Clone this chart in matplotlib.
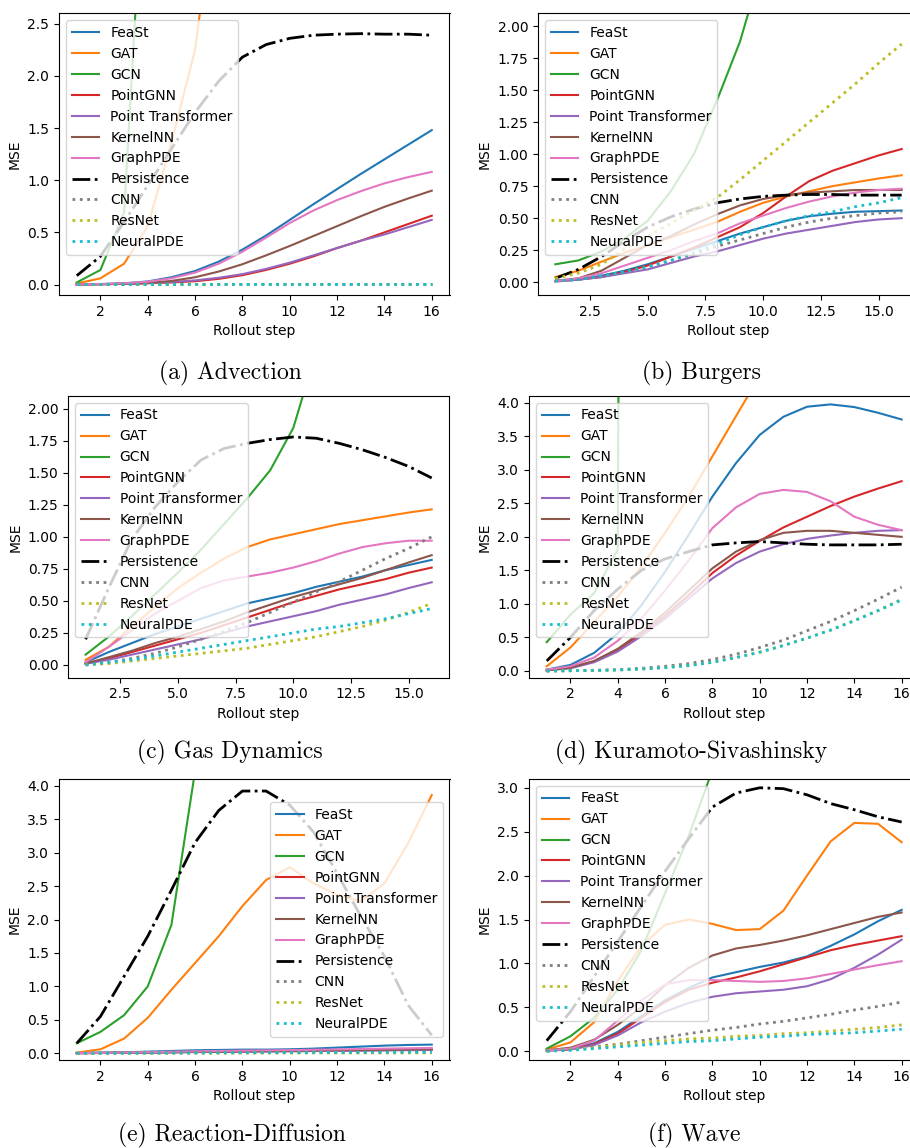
import matplotlib
matplotlib.use("Agg")
import matplotlib.pyplot as plt

plt.rcParams['font.size'] = 10

steps = list(range(1, 17))
models = ["FeaSt", "GAT", "GCN", "PointGNN", "Point Transformer", "KernelNN",
          "GraphPDE", "Persistence", "CNN", "ResNet", "NeuralPDE"]
colors = ["C0", "C1", "C2", "C3", "C4", "C5", "C6", "k", "C7", "C8", "C9"]

advection = {
    "FeaSt": [0.002, 0.005, 0.012, 0.03, 0.07, 0.13, 0.22, 0.335, 0.47, 0.62, 0.77, 0.915, 1.06, 1.2, 1.34, 1.48],
    "GAT": [0.01, 0.06, 0.2, 0.56, 1.36, 2.25, 4.0, 5.5, 7.0, 8.8, 11.0, 13.5, 16.0, 19.0, 22.0, 25.0],
    "GCN": [0.02, 0.14, 0.69, 4.7, 8.0, 12.0, 16.0, 20.0, 25.0, 30.0, 35.0, 40.0, 45.0, 50.0, 55.0, 60.0],
    "PointGNN": [0.001, 0.003, 0.006, 0.012, 0.02, 0.032, 0.055, 0.09, 0.14, 0.2, 0.27, 0.35, 0.42, 0.5, 0.58, 0.66],
    "Point Transformer": [0.001, 0.003, 0.008, 0.015, 0.025, 0.04, 0.065, 0.1, 0.15, 0.21, 0.28, 0.35, 0.42, 0.48, 0.55, 0.62],
    "KernelNN": [0.002, 0.004, 0.008, 0.018, 0.035, 0.07, 0.125, 0.195, 0.28, 0.37, 0.465, 0.56, 0.655, 0.745, 0.825, 0.9],
    "GraphPDE": [0.002, 0.005, 0.012, 0.028, 0.06, 0.115, 0.2, 0.315, 0.45, 0.59, 0.71, 0.81, 0.895, 0.97, 1.03, 1.08],
    "Persistence": [0.085, 0.27, 0.6, 0.95, 1.3, 1.65, 1.95, 2.18, 2.3, 2.36, 2.39, 2.4, 2.405, 2.4, 2.4, 2.39],
    "CNN": [0.002, 0.002, 0.002, 0.002, 0.002, 0.002, 0.002, 0.002, 0.002, 0.002, 0.002, 0.002, 0.002, 0.002, 0.002, 0.002],
    "ResNet": [0.001, 0.001, 0.001, 0.001, 0.001, 0.001, 0.001, 0.001, 0.001, 0.001, 0.001, 0.001, 0.001, 0.001, 0.001, 0.001],
    "NeuralPDE": [0.001, 0.001, 0.001, 0.001, 0.001, 0.001, 0.001, 0.001, 0.001, 0.001, 0.001, 0.001, 0.001, 0.001, 0.001, 0.001],
}

burgers = {
    "FeaSt": [0.01, 0.02, 0.05, 0.09, 0.14, 0.2, 0.26, 0.32, 0.38, 0.43, 0.48, 0.515, 0.535, 0.55, 0.555, 0.56],
    "GAT": [0.04, 0.09, 0.16, 0.23, 0.29, 0.35, 0.41, 0.47, 0.55, 0.62, 0.67, 0.71, 0.75, 0.78, 0.81, 0.835],
    "GCN": [0.14, 0.17, 0.24, 0.34, 0.48, 0.71, 1.0, 1.42, 1.88, 2.5, 3.2, 4.0, 4.9, 5.9, 7.0, 8.2],
    "PointGNN": [0.01, 0.02, 0.04, 0.08, 0.13, 0.2, 0.27, 0.35, 0.43, 0.54, 0.67, 0.79, 0.87, 0.93, 0.99, 1.04],
    "Point Transformer": [0.005, 0.02, 0.04, 0.07, 0.1, 0.15, 0.2, 0.24, 0.29, 0.34, 0.38, 0.41, 0.44, 0.47, 0.49, 0.5],
    "KernelNN": [0.01, 0.03, 0.09, 0.19, 0.29, 0.36, 0.45, 0.53, 0.6, 0.65, 0.68, 0.7, 0.71, 0.72, 0.72, 0.72],
    "GraphPDE": [0.01, 0.03, 0.07, 0.13, 0.19, 0.25, 0.32, 0.38, 0.46, 0.52, 0.58, 0.63, 0.67, 0.7, 0.72, 0.73],
    "Persistence": [0.03, 0.1, 0.2, 0.32, 0.43, 0.51, 0.57, 0.62, 0.65, 0.67, 0.68, 0.685, 0.685, 0.68, 0.68, 0.68],
    "CNN": [0.01, 0.02, 0.05, 0.08, 0.12, 0.17, 0.22, 0.28, 0.33, 0.38, 0.43, 0.47, 0.5, 0.52, 0.54, 0.55],
    "ResNet": [0.03, 0.07, 0.14, 0.26, 0.36, 0.46, 0.56, 0.66, 0.8, 0.95, 1.1, 1.25, 1.4, 1.55, 1.71, 1.86],
    "NeuralPDE": [0.01, 0.02, 0.05, 0.08, 0.12, 0.17, 0.23, 0.3, 0.37, 0.43, 0.48, 0.52, 0.55, 0.59, 0.62, 0.66],
}

gas_dynamics = {
    "FeaSt": [0.02, 0.1, 0.17, 0.24, 0.3, 0.36, 0.42, 0.48, 0.52, 0.56, 0.61, 0.65, 0.69, 0.74, 0.78, 0.82],
    "GAT": [0.04, 0.14, 0.3, 0.45, 0.6, 0.72, 0.83, 0.92, 0.98, 1.02, 1.06, 1.1, 1.13, 1.16, 1.19, 1.215],
    "GCN": [0.08, 0.22, 0.38, 0.55, 0.72, 0.9, 1.1, 1.3, 1.52, 1.85, 2.45, 3.2, 4.0, 5.0, 6.0, 7.0],
    "PointGNN": [0.01, 0.05, 0.1, 0.15, 0.2, 0.25, 0.31, 0.37, 0.43, 0.49, 0.54, 0.59, 0.63, 0.67, 0.72, 0.76],
    "Point Transformer": [0.01, 0.04, 0.08, 0.12, 0.16, 0.2, 0.25, 0.3, 0.34, 0.38, 0.42, 0.47, 0.51, 0.55, 0.6, 0.645],
    "KernelNN": [0.01, 0.06, 0.11, 0.17, 0.22, 0.28, 0.34, 0.41, 0.47, 0.53, 0.58, 0.63, 0.68, 0.74, 0.8, 0.857],
    "GraphPDE": [0.02, 0.14, 0.27, 0.4, 0.5, 0.6, 0.66, 0.69, 0.72, 0.76, 0.81, 0.87, 0.92, 0.95, 0.97, 0.97],
    "Persistence": [0.2, 0.6, 0.98, 1.23, 1.43, 1.6, 1.69, 1.73, 1.76, 1.78, 1.77, 1.73, 1.68, 1.62, 1.55, 1.46],
    "CNN": [0.0, 0.02, 0.05, 0.09, 0.14, 0.2, 0.26, 0.33, 0.41, 0.49, 0.57, 0.65, 0.74, 0.83, 0.91, 1.0],
    "ResNet": [0.0, 0.01, 0.03, 0.05, 0.07, 0.09, 0.11, 0.13, 0.16, 0.19, 0.22, 0.26, 0.3, 0.35, 0.41, 0.48],
    "NeuralPDE": [0.0, 0.02, 0.04, 0.07, 0.1, 0.13, 0.16, 0.19, 0.22, 0.25, 0.28, 0.3, 0.33, 0.36, 0.4, 0.44],
}

kuramoto = {
    "FeaSt": [0.02, 0.09, 0.27, 0.56, 0.98, 1.48, 2.03, 2.6, 3.1, 3.52, 3.79, 3.94, 3.975, 3.935, 3.85, 3.75],
    "GAT": [0.07, 0.35, 0.73, 1.11, 1.55, 2.06, 2.6, 3.2, 3.8, 4.4, 5.0, 5.6, 6.2, 6.8, 7.4, 8.0],
    "GCN": [0.43, 0.84, 1.16, 1.81, 80.0, 150.0, 220.0, 290.0, 360.0, 430.0, 500.0, 570.0, 640.0, 710.0, 780.0, 850.0],
    "PointGNN": [0.01, 0.05, 0.14, 0.32, 0.55, 0.82, 1.13, 1.46, 1.72, 1.94, 2.14, 2.3, 2.46, 2.6, 2.72, 2.83],
    "Point Transformer": [0.01, 0.04, 0.13, 0.29, 0.52, 0.78, 1.08, 1.38, 1.61, 1.78, 1.89, 1.97, 2.02, 2.06, 2.09, 2.1],
    "KernelNN": [0.01, 0.05, 0.15, 0.33, 0.58, 0.87, 1.2, 1.53, 1.78, 1.95, 2.06, 2.09, 2.09, 2.06, 2.03, 2.0],
    "GraphPDE": [0.02, 0.07, 0.2, 0.45, 0.78, 1.2, 1.65, 2.13, 2.44, 2.64, 2.7, 2.67, 2.53, 2.3, 2.18, 2.1],
    "Persistence": [0.15, 0.5, 0.9, 1.22, 1.5, 1.67, 1.78, 1.88, 1.91, 1.93, 1.91, 1.89, 1.88, 1.88, 1.88, 1.89],
    "CNN": [0.0, 0.005, 0.01, 0.02, 0.04, 0.07, 0.11, 0.17, 0.25, 0.35, 0.46, 0.6, 0.74, 0.9, 1.07, 1.25],
    "ResNet": [0.0, 0.004, 0.008, 0.015, 0.03, 0.05, 0.08, 0.13, 0.2, 0.28, 0.38, 0.49, 0.61, 0.75, 0.9, 1.07],
    "NeuralPDE": [0.0, 0.004, 0.008, 0.015, 0.03, 0.05, 0.08, 0.13, 0.2, 0.28, 0.38, 0.49, 0.61, 0.75, 0.9, 1.06],
}

reaction_diffusion = {
    "FeaSt": [0.005, 0.01, 0.015, 0.025, 0.035, 0.045, 0.05, 0.055, 0.055, 0.06, 0.07, 0.085, 0.1, 0.115, 0.125, 0.13],
    "GAT": [0.01, 0.06, 0.22, 0.53, 0.95, 1.35, 1.75, 2.2, 2.59, 2.78, 2.54, 2.37, 2.27, 2.54, 3.14, 3.86],
    "GCN": [0.15, 0.32, 0.57, 1.0, 1.92, 4.22, 7.0, 10.0, 13.0, 16.0, 19.0, 22.0, 25.0, 28.0, 31.0, 34.0],
    "PointGNN": [0.002, 0.005, 0.008, 0.012, 0.016, 0.02, 0.024, 0.027, 0.03, 0.033, 0.036, 0.04, 0.044, 0.048, 0.052, 0.055],
    "Point Transformer": [0.002, 0.004, 0.007, 0.01, 0.014, 0.018, 0.022, 0.025, 0.028, 0.031, 0.034, 0.037, 0.041, 0.044, 0.047, 0.05],
    "KernelNN": [0.003, 0.006, 0.01, 0.014, 0.018, 0.022, 0.026, 0.03, 0.033, 0.036, 0.04, 0.044, 0.048, 0.052, 0.056, 0.06],
    "GraphPDE": [0.003, 0.007, 0.012, 0.018, 0.024, 0.03, 0.035, 0.04, 0.044, 0.048, 0.053, 0.058, 0.064, 0.07, 0.075, 0.08],
    "Persistence": [0.15, 0.55, 1.15, 1.75, 2.44, 3.15, 3.63, 3.92, 3.92, 3.71, 3.31, 2.69, 2.05, 1.45, 0.72, 0.27],
    "CNN": [0.001, 0.002, 0.004, 0.005, 0.006, 0.008, 0.009, 0.01, 0.011, 0.012, 0.013, 0.015, 0.016, 0.017, 0.018, 0.02],
    "ResNet": [0.001, 0.001, 0.002, 0.002, 0.003, 0.003, 0.003, 0.004, 0.004, 0.004, 0.005, 0.005, 0.005, 0.005, 0.006, 0.006],
    "NeuralPDE": [0.001, 0.002, 0.003, 0.004, 0.005, 0.006, 0.007, 0.008, 0.009, 0.01, 0.011, 0.012, 0.013, 0.014, 0.015, 0.016],
}

wave = {
    "FeaSt": [0.01, 0.03, 0.09, 0.22, 0.4, 0.58, 0.72, 0.84, 0.9, 0.96, 1.01, 1.08, 1.2, 1.33, 1.48, 1.61],
    "GAT": [0.02, 0.1, 0.33, 0.8, 1.2, 1.44, 1.5, 1.45, 1.38, 1.39, 1.6, 2.0, 2.39, 2.6, 2.59, 2.38],
    "GCN": [0.03, 0.17, 0.38, 0.7, 1.15, 1.8, 2.45, 3.2, 4.0, 5.0, 6.0, 7.0, 8.0, 9.0, 10.0, 11.0],
    "PointGNN": [0.01, 0.02, 0.08, 0.2, 0.38, 0.56, 0.7, 0.78, 0.84, 0.91, 0.99, 1.07, 1.15, 1.21, 1.26, 1.31],
    "Point Transformer": [0.005, 0.02, 0.07, 0.18, 0.33, 0.45, 0.55, 0.62, 0.66, 0.68, 0.7, 0.74, 0.82, 0.95, 1.1, 1.27],
    "KernelNN": [0.01, 0.04, 0.13, 0.3, 0.5, 0.75, 0.95, 1.09, 1.17, 1.21, 1.26, 1.32, 1.39, 1.46, 1.53, 1.58],
    "GraphPDE": [0.01, 0.03, 0.12, 0.35, 0.58, 0.76, 0.81, 0.81, 0.8, 0.79, 0.8, 0.83, 0.88, 0.93, 0.98, 1.025],
    "Persistence": [0.12, 0.45, 0.85, 1.25, 1.65, 2.05, 2.42, 2.78, 2.94, 3.0, 2.99, 2.92, 2.82, 2.75, 2.67, 2.61],
    "CNN": [0.0, 0.02, 0.05, 0.08, 0.12, 0.16, 0.2, 0.24, 0.27, 0.31, 0.34, 0.38, 0.42, 0.47, 0.51, 0.56],
    "ResNet": [0.0, 0.02, 0.04, 0.07, 0.1, 0.12, 0.14, 0.15, 0.17, 0.18, 0.2, 0.21, 0.23, 0.25, 0.27, 0.3],
    "NeuralPDE": [0.0, 0.01, 0.03, 0.05, 0.07, 0.09, 0.11, 0.12, 0.14, 0.16, 0.17, 0.19, 0.2, 0.21, 0.23, 0.25],
}

captions = ["(a) Advection", "(b) Burgers", "(c) Gas Dynamics",
            "(d) Kuramoto-Sivashinsky", "(e) Reaction-Diffusion", "(f) Wave"]
datasets = [advection, burgers, gas_dynamics, kuramoto, reaction_diffusion, wave]
y_tops = [2.6, 2.1, 2.1, 4.1, 4.1, 3.1]
y_ticks = [[0.0, 0.5, 1.0, 1.5, 2.0, 2.5],
           [0.0, 0.25, 0.5, 0.75, 1.0, 1.25, 1.5, 1.75, 2.0],
           [0.0, 0.25, 0.5, 0.75, 1.0, 1.25, 1.5, 1.75, 2.0],
           [0.0, 0.5, 1.0, 1.5, 2.0, 2.5, 3.0, 3.5, 4.0],
           [0.0, 0.5, 1.0, 1.5, 2.0, 2.5, 3.0, 3.5, 4.0],
           [0.0, 0.5, 1.0, 1.5, 2.0, 2.5, 3.0]]
y_fmt = ["%.1f", "%.2f", "%.2f", "%.1f", "%.1f", "%.1f"]
x_ticks = [[2, 4, 6, 8, 10, 12, 14, 16],
           [2.5, 5.0, 7.5, 10.0, 12.5, 15.0],
           [2.5, 5.0, 7.5, 10.0, 12.5, 15.0],
           [2, 4, 6, 8, 10, 12, 14, 16],
           [2, 4, 6, 8, 10, 12, 14, 16],
           [2, 4, 6, 8, 10, 12, 14, 16]]
x_fmt = ["%d", "%.1f", "%.1f", "%d", "%d", "%d"]
legend_locs = ["upper left", "upper left", "upper left", "upper left", "center right", "upper left"]

W, H = 910, 1148
# axes boxes in pixels: left, top, right, bottom
boxes = [(59, 13.3, 449.5, 295), (538, 13.3, 919, 295),
         (68.3, 396, 449, 677.7), (529, 396, 919.4, 677.7),
         (59, 779, 449.5, 1060), (529, 779, 919.4, 1060)]
cap_pos = [(230, 379), (701, 379), (230, 758), (691, 758), (232, 1141), (694, 1141)]

fig = plt.figure(figsize=(W / 100, H / 100), dpi=100)

for i, data in enumerate(datasets):
    l, t, r, b = boxes[i]
    ax = fig.add_axes([l / W, 1 - b / H, (r - l) / W, (b - t) / H])
    for m, c in zip(models, colors):
        if m == "Persistence":
            ax.plot(steps, data[m], color=c, ls="-.", lw=2.0, label=m)
        elif m in ("CNN", "ResNet", "NeuralPDE"):
            ax.plot(steps, data[m], color=c, ls=":", lw=2.0, label=m)
        else:
            ax.plot(steps, data[m], color=c, lw=1.5, label=m)
    ax.set_xlim(0.25, 16.75)
    ax.set_ylim(-0.1, y_tops[i])
    ax.set_yticks(y_ticks[i])
    ax.set_yticklabels([y_fmt[i] % v for v in y_ticks[i]])
    ax.set_xticks(x_ticks[i])
    ax.set_xticklabels([x_fmt[i] % v for v in x_ticks[i]])
    ax.set_xlabel("Rollout step")
    ax.set_ylabel("MSE")
    ax.legend(loc=legend_locs[i], fontsize=10)
    cx, cy = cap_pos[i]
    fig.text(cx / W, 1 - cy / H, captions[i], ha="center", va="baseline",
             family="cmr10", fontsize=17)

fig.savefig("out.png", dpi=100)
